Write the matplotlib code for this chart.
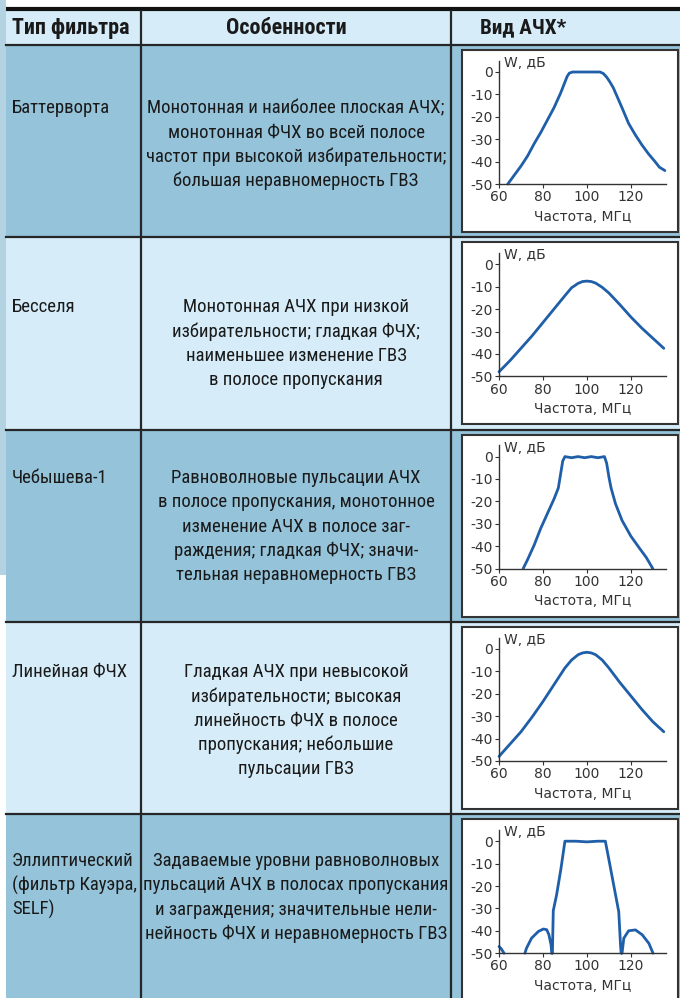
import numpy as np
import matplotlib
matplotlib.use("Agg")
import matplotlib.pyplot as plt
from matplotlib import font_manager as fm
from matplotlib.patches import Rectangle

# table content
filter_types = [
    ["Баттерворта"],
    ["Бесселя"],
    ["Чебышева-1"],
    ["Линейная ФЧХ"],
    ["Эллиптический", "(фильтр Кауэра,", "SELF)"],
]
features = [
    ["Монотонная и наиболее плоская АЧХ;", "монотонная ФЧХ во всей полосе",
     "частот при высокой избирательности;", "большая неравномерность ГВЗ"],
    ["Монотонная АЧХ при низкой", "избирательности; гладкая ФЧХ;",
     "наименьшее изменение ГВЗ", "в полосе пропускания"],
    ["Равноволновые пульсации АЧХ", "в полосе пропускания, монотонное",
     "изменение АЧХ в полосе заг-", "раждения; гладкая ФЧХ; значи-",
     "тельная неравномерность ГВЗ"],
    ["Гладкая АЧХ при невысокой", "избирательности; высокая",
     "линейность ФЧХ в полосе", "пропускания; небольшие", "пульсации ГВЗ"],
    ["Задаваемые уровни равноволновых", "пульсаций АЧХ в полосах пропускания",
     "и заграждения; значительные нели-", "нейность ФЧХ и неравномерность ГВЗ"],
]
headers = ["Тип фильтра", "Особенности", "Вид АЧХ*"]

# frequency responses (МГц, дБ); nan = break
butter_f = [64, 67, 70, 73, 76, 79, 82, 85, 88, 90, 91, 92, 93.5, 100, 106, 107.5, 109,
            110.5, 112, 114, 116, 119, 122, 125, 128, 131, 133, 135.5]
butter_w = [-50, -46, -42, -37.5, -32, -27, -21.5, -16, -9.5, -4.5, -2, -0.5, 0, 0, 0,
            -0.7, -2.3, -4.5, -7, -11.5, -16, -23, -28, -32.5, -36.5, -40, -42.5, -44]

bessel_f = [60, 65, 70, 75, 80, 85, 90, 93, 96, 98, 100, 102, 104, 107, 110, 115, 120,
            125, 130, 135]
bessel_w = [-48, -43, -37.5, -32, -26, -20, -14, -10.5, -8.5, -7.7, -7.5, -7.7, -8.4,
            -10.3, -12.8, -18, -23.5, -28.5, -33, -37.5]

cheb_f = [71, 73, 76, 79, 82, 85, 87, 88, 89, 90, 93, 96, 99, 102, 105, 108, 109,
          110, 111, 113, 116, 120, 124, 127, 130]
cheb_w = [-50, -46, -39.5, -32, -25.5, -19, -14, -8, -2, 0, -0.5, 0, -0.5, 0, -0.5, 0,
          -3, -9, -14, -21, -28.5, -35.5, -41, -45, -50]

linear_f = [60, 65, 70, 75, 80, 85, 90, 93, 96, 98, 100, 102, 104, 107, 110, 115, 120,
            125, 130, 135]
linear_w = [-48, -42.5, -37, -30.5, -23.5, -16, -8.5, -5, -2.6, -1.8, -1.5, -1.8, -2.6,
            -5, -8.5, -15, -21, -27, -32.5, -37]

ellip_f = [60, 61, 62.3, np.nan, 71.8, 72.5, 74.8, 77.9, 80.2, 81.7, 82.7, 83.7, 84,
           np.nan, 84.3, 84.7, 86.2, 88.2, 90, 95, 100, 105, 108.4, 110.2, 112.2, 114.5,
           115.3, 115.6, np.nan, 116, 116.8, 119, 122.1, 125.2, 128.2, 130.1]
ellip_w = [-47, -48, -50, np.nan, -50, -47.8, -43.3, -40.3, -39.2, -39.5, -41.7, -46.3,
           -50, np.nan, -50, -31, -24, -12.2, 0, 0, -0.3, 0, 0, -9.2, -19.6, -31.5,
           -46.3, -50, np.nan, -50, -43.3, -40, -39.6, -41.8, -45.6, -50]

curves = [(butter_f, butter_w), (bessel_f, bessel_w), (cheb_f, cheb_w),
          (linear_f, linear_w), (ellip_f, ellip_w)]
x_ticks = [60, 80, 100, 120]
y_ticks = [0, -10, -20, -30, -40, -50]


def pick_narrow(bold):
    # look for some condensed face with cyrillic, fall back to Liberation Sans
    prefs = ["Liberation Sans Narrow", "Roboto Condensed", "DejaVu Sans",
             "Noto Sans", "Open Sans", "Arial Narrow"]
    found = {}
    for f in fm.fontManager.ttflist:
        st = f.stretch
        narrow = ("Narrow" in f.name or "Condensed" in f.name or
                  st in ("condensed", "semi-condensed", "extra-condensed") or
                  (isinstance(st, (int, float)) and st < 500))
        if not narrow or f.style != "normal":
            continue
        w = f.weight if isinstance(f.weight, (int, float)) else \
            {"normal": 400, "regular": 400, "bold": 700}.get(f.weight, 400)
        if bold and w < 600 or not bold and (w < 350 or w > 500):
            continue
        found.setdefault(f.name, f.fname)
    for p in prefs:
        if p in found:
            return fm.FontProperties(fname=found[p])
    if found:
        return fm.FontProperties(fname=list(found.values())[0])
    return fm.FontProperties(family="Liberation Sans", weight="bold" if bold else "normal")


body_font = pick_narrow(False)
head_font = pick_narrow(True)

# layout in pixels
W, H = 680, 998
dark_row = "#94c3da"
light_row = "#d6edf9"
strip = "#b3d3e3"
edge = "#262626"
blue = "#1f5ea8"
ink = "#1a1a1a"

fig = plt.figure(figsize=(W / 100, H / 100), dpi=100)
bg = fig.add_axes([0, 0, 1, 1])
bg.set_xlim(0, W)
bg.set_ylim(H, 0)
bg.axis("off")
renderer = fig.canvas.get_renderer()


def fitted_size(text, fp, target_px):
    t = bg.text(0, 0, text, fontproperties=fp, fontsize=12)
    wpx = t.get_window_extent(renderer).width
    t.remove()
    return 12 * target_px / wpx


body_size = fitted_size(features[0][0], body_font, 298)
head_size = fitted_size(headers[0], head_font, 118)

header_top, header_bot = 11, 45
row_h = 192.3
col1, col2 = 141, 451

bg.add_patch(Rectangle((0, 0), 6, 575, color=strip, lw=0))
bg.add_patch(Rectangle((6, header_top), W, header_bot - header_top, color=light_row, lw=0))
bg.plot([6, W], [9, 9], color="#111", lw=3, solid_capstyle="butt")

for i in range(5):
    top = header_bot + i * row_h
    bg.add_patch(Rectangle((6, top), W, row_h, color=dark_row if i % 2 == 0 else light_row, lw=0))
    bg.plot([6, W], [top, top], color=edge, lw=1.6)
    # chart frame
    bg.add_patch(Rectangle((462, top + 5), 216, 182, facecolor="white", edgecolor="#333", lw=1.5))

bg.plot([col1, col1], [header_top, H], color=edge, lw=1.6)
bg.plot([col2, col2], [header_top, H], color=edge, lw=1.6)

# header
bg.text(12, 28, headers[0], ha="left", va="center", fontsize=head_size,
        fontproperties=head_font, color=ink)
bg.text(286, 28, headers[1], ha="center", va="center", fontsize=head_size,
        fontproperties=head_font, color=ink)
bg.text(480, 28, headers[2], ha="left", va="center", fontsize=head_size * 0.95,
        fontproperties=head_font, color=ink)

first_line = [108, 307, 478, 672, 861]
line_gap = 24.3
for i in range(5):
    for j, s in enumerate(filter_types[i]):
        bg.text(12, first_line[i] + j * line_gap, s, ha="left", va="center",
                fontproperties=body_font, fontsize=body_size, color=ink)
    for j, s in enumerate(features[i]):
        bg.text(296, first_line[i] + j * line_gap, s, ha="center", va="center",
                fontproperties=body_font, fontsize=body_size, color=ink)

# small charts
px_per_db = 2.24
for i, (f, w) in enumerate(curves):
    y_axis = 184 + i * row_h
    y_top = y_axis - 55 * px_per_db
    ax = fig.add_axes([499 / W, 1 - y_axis / H, 167 / W, (y_axis - y_top) / H])
    ax.set_facecolor("none")
    ax.plot(f, w, color=blue, lw=2.0, solid_capstyle="round", solid_joinstyle="round",
            clip_on=False)
    ax.set_xlim(60, 136)
    ax.set_ylim(-50, 5)
    for s in ["top", "right"]:
        ax.spines[s].set_visible(False)
    for s in ["left", "bottom"]:
        ax.spines[s].set_color("#333")
        ax.spines[s].set_linewidth(1.0)
    ax.set_xticks(x_ticks)
    ax.set_yticks(y_ticks)
    ax.set_xticklabels([str(t) for t in x_ticks])
    ax.set_yticklabels([str(t) for t in y_ticks])
    ax.tick_params(length=3, width=0.8, color="#333", labelsize=10, labelcolor="#333", pad=1.5)
    ax.set_xlabel("Частота, МГц", fontsize=10, color="#333", labelpad=4)
    ax.text(62.5, 4, "W, дБ", ha="left", va="center", fontsize=10, color="#333")

fig.savefig("out.png", dpi=100)
